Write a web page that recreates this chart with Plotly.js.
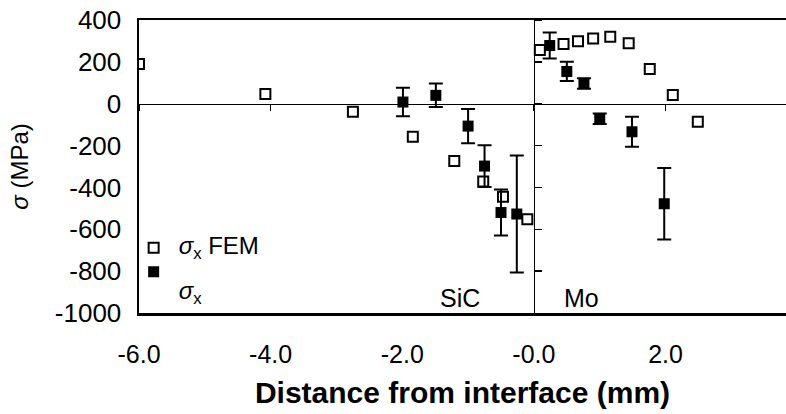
<!DOCTYPE html>
<html>
<head>
<meta charset="utf-8">
<script src="https://cdn.plot.ly/plotly-3.0.1.min.js"></script>
<style>html,body{margin:0;padding:0;background:#fff;}#chart{width:786px;height:414px;}</style>
</head>
<body>
<div id="chart"></div>
<script>
// FEM calculated stress (open squares)
const femX = [-6.0, -4.08, -2.75, -1.84, -1.21, -0.77, -0.47, -0.10, 0.09, 0.45, 0.67, 0.90, 1.16, 1.44, 1.76, 2.11, 2.49];
const femY = [190, 46, -38, -158, -274, -372, -444, -552, 257, 285, 298, 312, 320, 289, 166, 42, -86];
// Measured stress (filled squares) with error bars
const measX = [-1.99, -1.49, -1.00, -0.75, -0.50, -0.26, 0.24, 0.50, 0.76, 1.00, 1.49, 1.98];
const measY = [8, 40, -107, -298, -520, -527, 278, 154, 97, -72, -134, -478];
const measErr = [68, 56, 82, 100, 110, 280, 62, 46, 25, 25, 72, 171];
// Axis ticks
const xTickVals = [-6, -4, -2, 0, 2];
const xTickText = ["-6.0", "-4.0", "-2.0", "-0.0", "2.0"];
const yTickVals = [400, 200, 0, -200, -400, -600, -800, -1000];
const yTickText = ["400", "200", "0", "-200", "-400", "-600", "-800", "-1000"];
const innerYTicks = [400, 200, 0, -200, -400, -600, -800];
// Region labels
const regionLabels = ["SiC", "Mo"];
const regionX = [-1.12, 0.72];
const regionY = [-928, -928];

const FONT = "Liberation Sans, Arial, Helvetica, sans-serif";
const xRange = [-6, 3.83];
const yRange = [-1000, 400];
const big = s => "<span style='font-size:24px'>" + s + "</span>";

const traces = [
  {
    x: femX, y: femY, type: "scatter", mode: "markers",
    name: big("<i>σ</i><sub>x</sub> FEM"),
    marker: {symbol: "square-open", size: 10, color: "#000", line: {width: 2, color: "#000"}},
    xaxis: "x", yaxis: "y"
  },
  {
    x: measX, y: measY, type: "scatter", mode: "markers",
    name: "<br>" + big("<i>σ</i><sub>x</sub>"),
    marker: {symbol: "square", size: 11, color: "#000"},
    error_y: {type: "data", array: measErr, visible: true, color: "#000", thickness: 2, width: 7},
    xaxis: "x", yaxis: "y"
  },
  {
    x: [null], y: [null], type: "scatter", mode: "markers",
    showlegend: false, hoverinfo: "skip", xaxis: "x2", yaxis: "y2"
  }
];

const layout = {
  width: 786, height: 414,
  margin: {l: 139, r: 0, t: 20, b: 101},
  paper_bgcolor: "#fff", plot_bgcolor: "#fff",
  font: {family: FONT, color: "#000", size: 24},
  showlegend: true,
  legend: {
    x: -0.016, y: 0.28, xanchor: "left", yanchor: "top",
    bgcolor: "rgba(0,0,0,0)", font: {size: 16, family: FONT, color: "#000"},
    valign: "top", tracegroupgap: 0, itemwidth: 40
  },
  xaxis: {
    range: xRange, tickvals: xTickVals, ticktext: xTickText,
    showgrid: false, zeroline: false,
    showline: true, linecolor: "#000", linewidth: 2.5, mirror: true,
    ticks: "", ticklabelstandoff: 17,
    tickfont: {size: 25, family: FONT},
    title: {text: "<b>Distance from interface (mm)</b>", font: {size: 30, family: FONT}, standoff: 16}
  },
  yaxis: {
    range: yRange, tickvals: yTickVals, ticktext: yTickText,
    showgrid: false, zeroline: false,
    showline: true, linecolor: "#000", linewidth: 2.5, mirror: false,
    ticks: "", ticklabelstandoff: 10,
    tickfont: {size: 26, family: FONT},
    title: {text: "<i>σ</i> (MPa)", font: {size: 24, family: FONT}, standoff: 20}
  },
  xaxis2: {
    overlaying: "x", anchor: "free", position: 1000 / 1400,
    range: xRange, tickvals: xTickVals, showticklabels: false,
    showgrid: false, zeroline: false,
    showline: true, linecolor: "#000", linewidth: 1.5,
    ticks: "outside", ticklen: 6, tickwidth: 1.5, tickcolor: "#000"
  },
  yaxis2: {
    overlaying: "y", anchor: "free", side: "right",
    position: (0 - xRange[0]) / (xRange[1] - xRange[0]),
    range: yRange, tickvals: innerYTicks, showticklabels: false,
    showgrid: false, zeroline: false,
    showline: true, linecolor: "#000", linewidth: 1.5,
    ticks: "outside", ticklen: 7, tickwidth: 1.5, tickcolor: "#000"
  },
  annotations: regionLabels.map((t, i) => ({
    x: regionX[i], y: regionY[i], xref: "x", yref: "y",
    text: t, showarrow: false, font: {size: 25, family: FONT, color: "#000"}
  }))
};

Plotly.newPlot("chart", traces, layout, {staticPlot: true, displayModeBar: false});
</script>
</body>
</html>
